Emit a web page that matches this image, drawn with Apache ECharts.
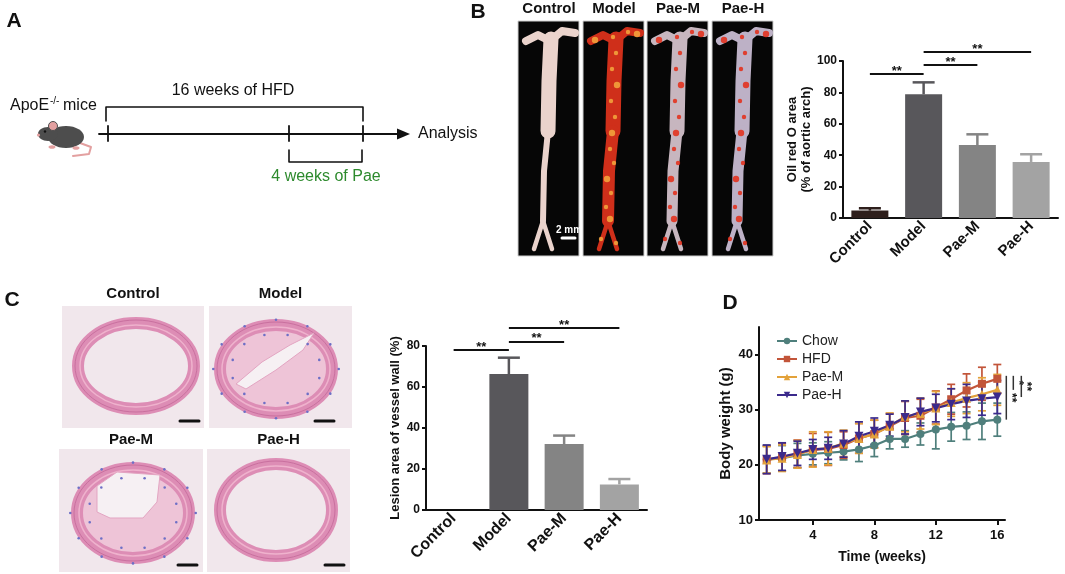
<!DOCTYPE html>
<html>
<head>
<meta charset="utf-8">
<script src="https://cdn.jsdelivr.net/npm/echarts@6/dist/echarts.min.js"></script>
<style>
  html, body { margin: 0; padding: 0; background: #fff; }
  #fig { width: 1065px; height: 574px; }
</style>
</head>
<body>
<div id="fig"></div>
<script>
// ---- data ----
const groups = ['Control', 'Model', 'Pae-M', 'Pae-H'];
const barColors = ['#2e1f1c', '#58575b', '#848484', '#a3a3a3'];

// B: oil red O area (% of aortic arch)
const oilRedMean = [4.7, 78.8, 46.5, 35.7];
const oilRedErr = [1.5, 7.6, 6.8, 4.9];
const oilRedSig = [[0, 1, 91.7, '**'], [1, 2, 97.5, '**'], [1, 3, 105.7, '**']];

// C: lesion area of vessel wall (%)
const lesionMean = [0, 66.3, 32.2, 12.5];
const lesionErr = [0, 8.0, 4.1, 2.6];
const lesionSig = [[0, 1, 78, '**'], [1, 2, 82, '**'], [1, 3, 88.8, '**']];

// D: body weight (g)
const weeks = [1, 2, 3, 4, 5, 6, 7, 8, 9, 10, 11, 12, 13, 14, 15, 16];
const chowMean = [21.0, 21.2, 21.7, 22.0, 22.2, 22.4, 22.8, 23.5, 24.7, 24.7, 25.6, 26.4, 26.9, 27.1, 27.9, 28.2];
const chowSd = [2.5, 2.3, 2.2, 2.0, 2.0, 1.5, 2.2, 2.0, 1.8, 1.5, 2.0, 3.5, 2.6, 2.5, 3.3, 3.0];
const hfdMean = [20.9, 21.4, 22.0, 22.7, 22.9, 23.6, 24.8, 25.6, 27.0, 28.5, 28.9, 30.4, 31.9, 33.5, 34.7, 35.6];
const hfdSd = [2.5, 2.5, 2.5, 3.0, 3.0, 2.4, 2.7, 2.5, 2.3, 3.0, 3.0, 3.0, 2.7, 3.0, 3.0, 2.6];
const paeMMean = [20.9, 21.2, 21.9, 22.8, 23.0, 23.9, 24.8, 25.6, 27.0, 28.8, 29.3, 30.3, 31.3, 32.1, 32.8, 33.6];
const paeMSd = [2.4, 2.4, 2.5, 3.2, 3.0, 2.4, 2.7, 2.5, 2.4, 2.8, 2.8, 3.0, 2.5, 2.8, 3.0, 2.8];
const paeHMean = [21.0, 21.5, 22.1, 22.8, 23.0, 23.8, 25.2, 26.1, 27.2, 28.6, 29.6, 30.3, 31.0, 31.6, 32.0, 32.3];
const paeHSd = [2.6, 2.5, 2.2, 1.8, 2.0, 2.4, 2.6, 2.4, 2.0, 3.0, 2.5, 2.5, 2.8, 3.0, 3.0, 3.0];
const weightSig = [['HFD', 'Chow', '**'], ['HFD', 'Pae-M', '*'], ['HFD', 'Pae-H', '**']];

const FONT = '"Liberation Sans", Arial, Helvetica, sans-serif';
const INK = '#111';

const chart = echarts.init(document.getElementById('fig'));

// ---- bar panels ----
function barX(gi, size) {
  return {
    type: 'category', gridIndex: gi, data: groups,
    axisLine: { lineStyle: { color: INK, width: 2 } },
    axisTick: { show: false },
    axisLabel: { rotate: 45, interval: 0, margin: 6, color: INK, fontWeight: 'bold', fontSize: size, fontFamily: FONT }
  };
}
function barY(gi, max, name, gap) {
  return {
    type: 'value', gridIndex: gi, min: 0, max: max, interval: 20,
    name: name, nameLocation: 'middle', nameRotate: 90, nameGap: gap,
    nameTextStyle: { color: INK, fontWeight: 'bold', fontSize: 13, fontFamily: FONT, lineHeight: 14 },
    axisLine: { show: true, lineStyle: { color: INK, width: 2 } },
    axisTick: { show: true, length: 4, lineStyle: { width: 2 } },
    splitLine: { show: false },
    axisLabel: { margin: 6, color: INK, fontWeight: 'bold', fontSize: 12, fontFamily: FONT }
  };
}
function barSeries(gi, means, w) {
  return {
    type: 'bar', xAxisIndex: gi, yAxisIndex: gi, barWidth: w, silent: true,
    data: means.map((v, i) => ({ value: v, itemStyle: { color: barColors[i] } }))
  };
}
function barErr(gi, means, errs) {
  return {
    type: 'custom', xAxisIndex: gi, yAxisIndex: gi, silent: true, z: 3,
    data: means.map((m, i) => [i, m, m + errs[i]]),
    encode: { x: 0, y: [1, 2] },
    renderItem(params, api) {
      const base = api.coord([api.value(0), api.value(1)]);
      const top = api.coord([api.value(0), api.value(2)]);
      if (base[1] - top[1] < 0.5) return { type: 'group', children: [] };
      const c = barColors[params.dataIndex];
      return { type: 'group', children: [
        { type: 'line', shape: { x1: base[0], y1: base[1], x2: top[0], y2: top[1] }, style: { stroke: c, lineWidth: 2.5 } },
        { type: 'line', shape: { x1: top[0] - 11, y1: top[1], x2: top[0] + 11, y2: top[1] }, style: { stroke: c, lineWidth: 2.5 } }
      ] };
    }
  };
}
function barSig(gi, pairs) {
  return {
    type: 'custom', xAxisIndex: gi, yAxisIndex: gi, silent: true, z: 3,
    data: pairs.map(p => [p[0], p[1], p[2]]),
    encode: { x: [0, 1], y: 2 },
    renderItem(params, api) {
      const a = api.coord([api.value(0), api.value(2)]);
      const b = api.coord([api.value(1), api.value(2)]);
      return { type: 'group', children: [
        { type: 'line', shape: { x1: a[0], y1: a[1], x2: b[0], y2: b[1] }, style: { stroke: INK, lineWidth: 2 } },
        { type: 'text', style: { text: pairs[params.dataIndex][3], x: (a[0] + b[0]) / 2, y: a[1] - 3,
          align: 'center', verticalAlign: 'middle', font: 'bold 13px ' + FONT, fill: INK } }
      ] };
    }
  };
}

// ---- body weight panel ----
const weightGroups = [
  { name: 'Chow', mean: chowMean, sd: chowSd, color: '#4f7f7c', symbol: 'circle', size: 8 },
  { name: 'HFD', mean: hfdMean, sd: hfdSd, color: '#c2553a', symbol: 'rect', size: 8 },
  { name: 'Pae-M', mean: paeMMean, sd: paeMSd, color: '#e3a23a', symbol: 'triangle', size: 9 },
  { name: 'Pae-H', mean: paeHMean, sd: paeHSd, color: '#3b2a8c', symbol: 'path://M0,0L10,0L5,9Z', size: 9 }
];
const weightSeries = [];
weightGroups.forEach(g => {
  weightSeries.push({
    type: 'custom', name: g.name + ' sd', xAxisIndex: 2, yAxisIndex: 2, silent: true,
    data: weeks.map((w, i) => [w, g.mean[i] - g.sd[i], g.mean[i] + g.sd[i]]),
    encode: { x: 0, y: [1, 2] },
    renderItem(params, api) {
      const lo = api.coord([api.value(0), api.value(1)]);
      const hi = api.coord([api.value(0), api.value(2)]);
      const st = { stroke: g.color, lineWidth: 1.7 };
      return { type: 'group', children: [
        { type: 'line', shape: { x1: lo[0], y1: lo[1], x2: hi[0], y2: hi[1] }, style: st },
        { type: 'line', shape: { x1: lo[0] - 4, y1: lo[1], x2: lo[0] + 4, y2: lo[1] }, style: st },
        { type: 'line', shape: { x1: hi[0] - 4, y1: hi[1], x2: hi[0] + 4, y2: hi[1] }, style: st }
      ] };
    }
  });
  weightSeries.push({
    type: 'line', name: g.name, xAxisIndex: 2, yAxisIndex: 2, silent: true,
    data: weeks.map((w, i) => [w, g.mean[i]]),
    symbol: g.symbol, symbolSize: g.size, showAllSymbol: true,
    lineStyle: { color: g.color, width: 2.2 },
    itemStyle: { color: g.color }
  });
});
const lastOf = name => weightGroups.find(g => g.name === name).mean[weeks.length - 1];
weightSeries.push({
  type: 'custom', xAxisIndex: 2, yAxisIndex: 2, silent: true, z: 4,
  data: weightSig.map(s => [weeks[weeks.length - 1], lastOf(s[0]), lastOf(s[1])]),
  encode: { x: 0, y: [1, 2] },
  renderItem(params, api) {
    const offs = [9, 16, 24];
    const a = api.coord([api.value(0), api.value(1)]);
    const b = api.coord([api.value(0), api.value(2)]);
    const x = a[0] + offs[params.dataIndex];
    return { type: 'group', children: [
      { type: 'line', shape: { x1: x, y1: a[1] - 3, x2: x, y2: b[1] }, style: { stroke: '#333', lineWidth: 1.5 } },
      { type: 'text', x: x + 5, y: (a[1] - 3 + b[1]) / 2, rotation: -Math.PI / 2,
        style: { text: weightSig[params.dataIndex][2], x: 0, y: 0, align: 'center', verticalAlign: 'middle',
          font: 'bold 12px ' + FONT, fill: INK } }
    ] };
  }
});

// ---- drawn panels (scheme, photos) ----
const decor = [];
function txt(text, x, y, size, o) {
  o = o || {};
  decor.push({ type: 'text', silent: true, z: 10, x: x, y: y, rotation: o.rot || 0,
    style: { text: text, x: 0, y: 0, fill: o.fill || INK, font: (o.weight || 'bold') + ' ' + size + 'px ' + FONT,
      align: o.align || 'center', verticalAlign: 'middle' } });
}
function poly(pts, w, c, z) {
  decor.push({ type: 'polyline', silent: true, z: z || 5, shape: { points: pts },
    style: { stroke: c || INK, lineWidth: w, fill: null, lineCap: 'round', lineJoin: 'round' } });
}
function shape(type, sh, style, z) {
  decor.push({ type: type, silent: true, z: z || 5, shape: sh, style: style });
}

// panel letters
txt('A', 14, 21, 21);
txt('B', 478, 12, 21);
txt('C', 12, 300, 21);
txt('D', 730, 303, 21);

// A: timeline scheme
txt('16 weeks of HFD', 233, 91, 16, { weight: 'normal' });
poly([[106, 121], [106, 107], [363, 107], [363, 121]], 1.6);
poly([[99, 134], [400, 134]], 1.8);
shape('polygon', { points: [[397, 128.5], [410, 134], [397, 139.5]] }, { fill: INK });
[108, 289, 363].forEach(x => poly([[x, 126], [x, 141]], 1.8));
poly([[289, 150], [289, 162], [362, 162], [362, 150]], 1.6);
txt('4 weeks of Pae', 326, 177, 16, { weight: 'normal', fill: '#2d8a2d' });
txt('Analysis', 418, 134, 16, { weight: 'normal', align: 'left' });
txt('ApoE', 10, 106, 16, { weight: 'normal', align: 'left' });
txt('-/-', 50, 101, 10, { weight: 'normal', align: 'left' });
txt('mice', 63, 106, 16, { weight: 'normal', align: 'left' });
// mouse
poly([[80, 143], [91, 147], [89, 154], [73, 156]], 2, '#e3a0a0', 4);
shape('ellipse', { cx: 66, cy: 137, rx: 18, ry: 11 }, { fill: '#4d4d4d' });
shape('ellipse', { cx: 48, cy: 134, rx: 10, ry: 7 }, { fill: '#4d4d4d' });
shape('circle', { cx: 53, cy: 126, r: 4.5 }, { fill: '#e3a0a0', stroke: '#4d4d4d', lineWidth: 1 }, 6);
shape('circle', { cx: 38.5, cy: 135, r: 1.6 }, { fill: '#e3a0a0' }, 6);
shape('circle', { cx: 45, cy: 131.5, r: 1.2 }, { fill: '#111' }, 6);
shape('ellipse', { cx: 52, cy: 147, rx: 3.5, ry: 1.8 }, { fill: '#e3a0a0' }, 6);
shape('ellipse', { cx: 76, cy: 148, rx: 3.5, ry: 1.8 }, { fill: '#e3a0a0' }, 6);

// B: en face aorta photos
const photoX = [518, 583, 647, 712];
const aortaLook = [
  { body: '#ead3cc', lower: 6, spot: null },
  { body: '#cf2f1a', lower: 12, spot: '#f2a23c' },
  { body: '#c7b6bf', lower: 11, spot: '#e2331f' },
  { body: '#bdb1c6', lower: 11, spot: '#e2331f' }
];
const spotPts = [[12, 19], [30, 16], [45, 11], [54, 13], [33, 32], [29, 48], [34, 64], [28, 80], [32, 96],
  [29, 112], [27, 128], [31, 142], [24, 158], [28, 172], [23, 186], [27, 198], [18, 218], [33, 222]];
photoX.forEach((x0, k) => {
  const y0 = 21;
  const L = aortaLook[k];
  const p = pts => pts.map(q => [x0 + q[0], y0 + q[1]]);
  shape('rect', { x: x0, y: y0, width: 61, height: 235 }, { fill: '#060606', stroke: '#cfcfcf', lineWidth: 1 }, 4);
  txt(groups[k], x0 + 31, 9, 15);
  poly(p([[8, 20], [20, 14], [32, 20], [44, 10], [57, 12]]), 8, L.body);
  poly(p([[33, 18], [31, 60], [30, 110]]), 15, L.body);
  poly(p([[30, 110], [26, 150], [25, 200]]), L.lower, L.body);
  poly(p([[25, 200], [16, 228]]), 4.5, L.body);
  poly(p([[25, 200], [34, 228]]), 4.5, L.body);
  if (L.spot) {
    spotPts.forEach((q, j) => {
      shape('circle', { cx: x0 + q[0], cy: y0 + q[1], r: j % 3 === 0 ? 3.2 : 2.2 }, { fill: L.spot, opacity: 0.9 }, 6);
    });
  }
});
poly([[562, 238], [575, 238]], 3, '#fff', 7);
txt('2 mm', 569, 230, 10, { fill: '#fff' });

// C: H&E cross-sections
const histo = [
  { x: 62, y: 306, w: 142, h: 122, cx: 136, cy: 366, rx: 58, ry: 43, bar: 180, lumen: null },
  { x: 209, y: 306, w: 143, h: 122, cx: 276, cy: 369, rx: 56, ry: 44, bar: 315,
    lumen: [[236, 384], [262, 362], [290, 345], [314, 333], [303, 350], [276, 370], [246, 389]] },
  { x: 59, y: 449, w: 144, h: 123, cx: 133, cy: 513, rx: 56, ry: 45, bar: 178,
    lumen: [[97, 486], [117, 472], [160, 475], [157, 502], [143, 518], [110, 518], [97, 512]] },
  { x: 207, y: 449, w: 143, h: 123, cx: 276, cy: 510, rx: 56, ry: 46, bar: 325, lumen: null }
];
histo.forEach((h, k) => {
  shape('rect', { x: h.x, y: h.y, width: h.w, height: h.h }, { fill: '#f1e7ec' }, 4);
  txt(groups[k], h.x + h.w / 2, k < 2 ? 294 : 440, 15);
  const plaque = !!h.lumen;
  shape('ellipse', { cx: h.cx, cy: h.cy, rx: h.rx, ry: h.ry },
    { fill: plaque ? '#eec4d7' : null, stroke: '#dd8db5', lineWidth: 12 });
  shape('ellipse', { cx: h.cx, cy: h.cy, rx: h.rx - 2, ry: h.ry - 2 }, { fill: null, stroke: '#efb2cd', lineWidth: 1.5 }, 6);
  shape('ellipse', { cx: h.cx, cy: h.cy, rx: h.rx + 3, ry: h.ry + 3 }, { fill: null, stroke: '#c9709f', lineWidth: 1 }, 6);
  if (plaque) {
    shape('polygon', { points: h.lumen }, { fill: '#f6f0f3', stroke: '#e3a5c2', lineWidth: 1 }, 6);
    for (let j = 0; j < 24; j++) {
      const t = j / 24 * Math.PI * 2;
      const r = j % 2 ? 0.8 : 1.12;
      shape('circle', { cx: h.cx + Math.cos(t) * h.rx * r, cy: h.cy + Math.sin(t) * h.ry * r, r: 1.3 }, { fill: '#6d6fc6' }, 6);
    }
  }
  poly([[h.bar, h.y + h.h - 7], [h.bar + 19, h.y + h.h - 7]], 3, INK, 7);
});

chart.setOption({
  backgroundColor: '#fff',
  animation: false,
  textStyle: { fontFamily: FONT },
  grid: [
    { left: 843, top: 61, width: 215, height: 157 },
    { left: 426, top: 346, width: 221, height: 164 },
    { left: 759, top: 327, width: 246, height: 193 }
  ],
  legend: {
    data: weightGroups.map(g => g.name), orient: 'vertical', left: 771, top: 329,
    itemWidth: 20, itemHeight: 8, itemGap: 4, selectedMode: false,
    textStyle: { fontSize: 14, color: '#222', fontFamily: FONT, lineHeight: 14 }
  },
  xAxis: [
    barX(0, 15),
    barX(1, 16),
    {
      type: 'value', gridIndex: 2, min: 0.5, max: 16.5,
      name: 'Time (weeks)', nameLocation: 'middle', nameGap: 30,
      nameTextStyle: { color: INK, fontWeight: 'bold', fontSize: 14, fontFamily: FONT },
      axisLine: { show: true, lineStyle: { color: INK, width: 2 } },
      axisTick: { show: true, length: 5, lineStyle: { width: 2 }, customValues: [4, 8, 12, 16] },
      axisLabel: { margin: 9, color: INK, fontWeight: 'bold', fontSize: 13, fontFamily: FONT, customValues: [4, 8, 12, 16] },
      splitLine: { show: false }
    }
  ],
  yAxis: [
    barY(0, 100, 'Oil red O area\n(% of aortic arch)', 24),
    barY(1, 80, 'Lesion area of vessel wall (%)', 21),
    {
      type: 'value', gridIndex: 2, min: 10, max: 45,
      name: 'Body weight (g)', nameLocation: 'middle', nameRotate: 90, nameGap: 26,
      nameTextStyle: { color: INK, fontWeight: 'bold', fontSize: 15, fontFamily: FONT },
      axisLine: { show: true, lineStyle: { color: INK, width: 2 } },
      axisTick: { show: true, length: 4, lineStyle: { width: 2 }, customValues: [10, 20, 30, 40] },
      axisLabel: { margin: 6, color: INK, fontWeight: 'bold', fontSize: 13, fontFamily: FONT, customValues: [10, 20, 30, 40] },
      splitLine: { show: false }
    }
  ],
  series: [
    barSeries(0, oilRedMean, 37),
    barErr(0, oilRedMean, oilRedErr),
    barSig(0, oilRedSig),
    barSeries(1, lesionMean, 39),
    barErr(1, lesionMean, lesionErr),
    barSig(1, lesionSig)
  ].concat(weightSeries),
  graphic: decor
});
</script>
</body>
</html>
